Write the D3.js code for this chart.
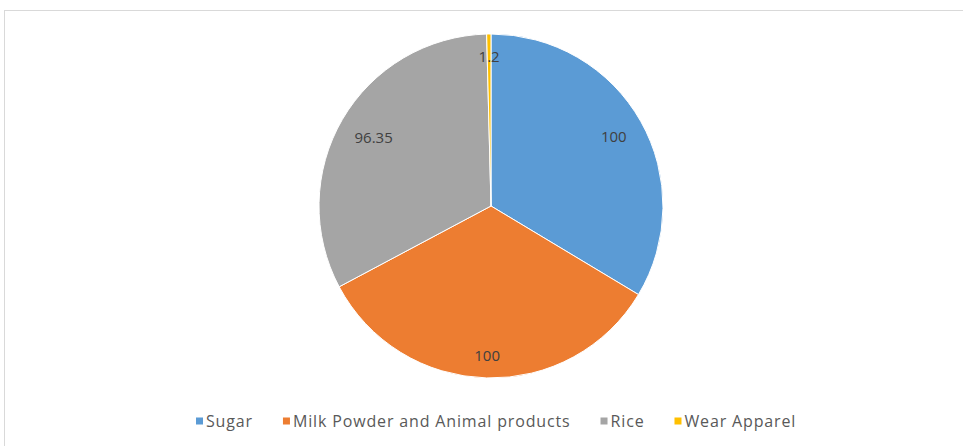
<!DOCTYPE html>
<html>
<head>
<meta charset="utf-8">
<script src="https://cdn.jsdelivr.net/npm/d3@7"></script>
<style>
  body { margin: 0; background: #fff; }
  text { font-family: "Open Sans", "DejaVu Sans", sans-serif; }
</style>
</head>
<body>
<div id="chart"></div>
<script>
// data
const categories = ["Sugar", "Milk Powder and Animal products", "Rice", "Wear Apparel"];
const values = [100, 100, 96.35, 1.2];
const labels = ["100", "100", "96.35", "1.2"];
const colors = ["#5B9BD5", "#ED7D31", "#A5A5A5", "#FFC000"];

const width = 963, height = 446;
const cx = 491, cy = 206, radius = 172;
// where each data label sits, as fraction of the radius (excel "best fit")
const labelPos = [0.82, 0.87, 0.79, 0.87];

const svg = d3.select("#chart")
  .append("svg")
  .attr("width", width)
  .attr("height", height);

// chart frame (cut off at right and bottom)
svg.append("rect")
  .attr("x", 4.5)
  .attr("y", 10.5)
  .attr("width", width + 10)
  .attr("height", height + 10)
  .attr("fill", "#fff")
  .attr("stroke", "#d9d9d9")
  .attr("stroke-width", 1);

const color = d3.scaleOrdinal().domain(categories).range(colors);

const pie = d3.pie().sort(null).value(d => d.value);
const data = categories.map((c, i) => ({ name: c, value: values[i], label: labels[i] }));
const arcs = pie(data);

const arcGen = d3.arc().innerRadius(0).outerRadius(radius);

const g = svg.append("g").attr("transform", `translate(${cx},${cy})`);

g.selectAll("path.slice")
  .data(arcs)
  .enter()
  .append("path")
  .attr("class", "slice")
  .attr("d", arcGen)
  .attr("fill", d => color(d.data.name))
  .attr("stroke", "#fff")
  .attr("stroke-width", 1);

g.selectAll("text.lbl")
  .data(arcs)
  .enter()
  .append("text")
  .attr("class", "lbl")
  .attr("transform", (d, i) => {
    const r = radius * labelPos[i];
    const a = d3.arc().innerRadius(r).outerRadius(r);
    return "translate(" + a.centroid(d) + ")";
  })
  .attr("text-anchor", "middle")
  .attr("dy", "0.35em")
  .attr("fill", "#404040")
  .style("font-size", "15px")
  .text(d => d.data.label);

// legend
const legend = svg.append("g").attr("class", "legend");
const legendY = 421;
let lx = 196;
categories.forEach((c, i) => {
  const item = legend.append("g").attr("transform", `translate(${lx},${legendY})`);
  item.append("rect")
    .attr("x", 0).attr("y", -3.5)
    .attr("width", 7).attr("height", 7)
    .attr("fill", color(c));
  const t = item.append("text")
    .attr("x", 10).attr("y", 0)
    .attr("dy", "0.35em")
    .attr("fill", "#595959")
    .style("font-size", "16px")
    .style("letter-spacing", "0.85px")
    .text(c);
  lx += 10 + t.node().getComputedTextLength() + 30;
});
</script>
</body>
</html>
